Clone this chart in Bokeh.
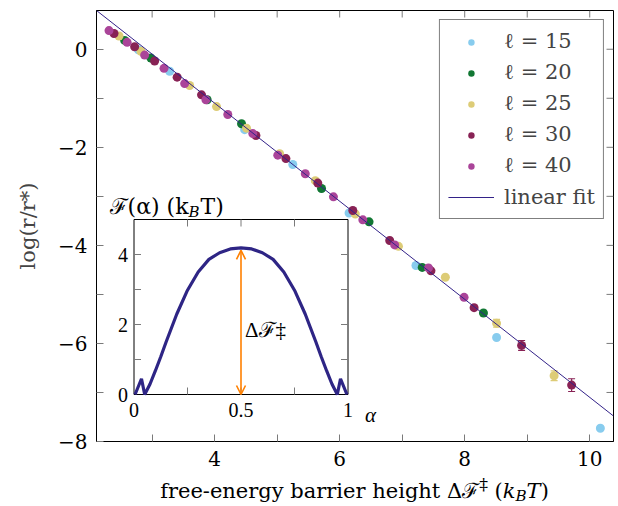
import math
from bokeh.plotting import figure
from bokeh.layouts import column
from bokeh.models import (Range1d, FixedTicker, Label, Legend, LegendItem, Div,
                          Whisker, TeeHead, ColumnDataSource, Arrow, OpenHead)
from bokeh.embed import file_html
from bokeh.resources import INLINE

# ---------------- data ----------------
l15_x = [2.78, 3.28, 4.48, 5.25, 6.15, 7.22, 8.51, 10.17]
l15_y = [-0.01, -0.45, -1.64, -2.35, -3.34, -4.41, -5.88, -7.73]
l15_err = [0, 0, 0, 0, 0, 0, 0, 0.04]

l20_x = [2.56, 2.98, 3.88, 4.43, 5.71, 6.47, 7.32, 8.30]
l20_y = [0.18, -0.18, -1.03, -1.52, -2.84, -3.52, -4.45, -5.38]
l20_err = [0, 0, 0, 0, 0, 0, 0, 0]

l25_x = [2.47, 2.82, 3.60, 4.03, 4.51, 5.04, 5.61, 6.25, 6.94, 7.69, 8.51, 9.43]
l25_y = [0.27, -0.04, -0.74, -1.17, -1.61, -2.13, -2.68, -3.36, -4.02, -4.65, -5.59, -6.66]
l25_err = [0, 0, 0, 0, 0, 0, 0, 0, 0, 0, 0.08, 0.10]

l30_x = [2.39, 2.72, 3.04, 3.40, 3.79, 4.66, 5.14, 5.65, 6.21, 6.80, 7.46, 8.15, 8.91, 9.71]
l30_y = [0.32, 0.05, -0.24, -0.57, -0.93, -1.76, -2.23, -2.73, -3.29, -3.90, -4.52, -5.27, -6.04, -6.85]
l30_err = [0, 0, 0, 0, 0, 0, 0, 0, 0, 0, 0, 0, 0.10, 0.13]

l40_x = [2.31, 2.60, 2.88, 3.19, 3.52, 3.86, 4.21, 4.61, 5.01, 5.45, 5.90, 6.37, 6.88, 7.42, 7.99]
l40_y = [0.38, 0.14, -0.12, -0.39, -0.70, -1.03, -1.33, -1.72, -2.16, -2.54, -3.01, -3.48, -3.99, -4.46, -5.06]
l40_err = [0] * 15

series_labels = ["ℓ = 15", "ℓ = 20", "ℓ = 25", "ℓ = 30", "ℓ = 40"]
series_colors = ["#88CCEE", "#117733", "#DDCC77", "#882255", "#AA4499"]

fit_slope = -1.0
fit_intercept = 2.9
fit_label = "linear fit"

x_major_ticks = [4, 6, 8, 10]
x_minor_ticks = [3, 5, 7, 9]
y_major_ticks = [-8, -6, -4, -2, 0]
y_minor_ticks = [-7, -5, -3, -1]

x_title = ("free-energy barrier height Δℱ<sup>‡</sup> (<i>k</i>"
           "<span style='font-size:0.72em;position:relative;top:0.22em'><i>B</i></span>"
           "<i>T</i>)")
y_title = "log(r/r*)"

# inset: free-energy profile
inset_alpha = [0.005, 0.035, 0.050, 0.075, 0.10, 0.125, 0.15, 0.175, 0.20, 0.25, 0.30, 0.35,
               0.40, 0.45, 0.50, 0.55, 0.60, 0.65, 0.70, 0.75, 0.80, 0.825, 0.85, 0.875,
               0.90, 0.925, 0.95, 0.965, 0.995]
inset_F = [0.00, 0.45, 0.00, 0.30, 0.68, 1.08, 1.50, 1.90, 2.30, 2.98, 3.50, 3.86,
           4.05, 4.16, 4.19, 4.16, 4.05, 3.86, 3.50, 2.98, 2.30, 1.90, 1.50, 1.08,
           0.68, 0.30, 0.00, 0.45, 0.00]
barrier_height = 4.12
inset_x_labeled = [0, 0.5, 1]
inset_x_labels = ["0", "0.5", "1"]
inset_x_minor = [0.25, 0.5, 0.75]
inset_y_labeled = [0, 2, 4]
inset_y_labels = ["0", "2", "4"]
inset_y_minor = [1, 2, 3, 4]

# ---------------- layout ----------------
FONT = "DejaVu Serif"
FS = "20px"
FS_L = "21px"
W = 618
BL, BR, BT, BB = 96, 5, 10, 35
FW, FH = W - BL - BR, 431
H = BT + FH + BB
DIV_H = 506 - H
X0, X1 = 2.11, 10.38
Y0, Y1 = -8.0, 0.79
TICK = 7
TICK_COLOR = "#7a7a7a"

p = figure(width=W, height=H, output_backend="svg", toolbar_location=None,
           x_range=Range1d(X0, X1), y_range=Range1d(Y0, Y1),
           min_border_left=BL, min_border_right=BR, min_border_top=BT, min_border_bottom=BB)
p.background_fill_color = "white"
p.border_fill_color = "white"
p.outline_line_color = "black"
p.xgrid.visible = False
p.ygrid.visible = False

p.xaxis.ticker = FixedTicker(ticks=x_major_ticks, minor_ticks=x_minor_ticks)
p.yaxis.ticker = FixedTicker(ticks=y_major_ticks, minor_ticks=y_minor_ticks)
for ax in (p.xaxis[0], p.yaxis[0]):
    ax.major_tick_in = TICK
    ax.major_tick_out = 0
    ax.minor_tick_in = TICK
    ax.minor_tick_out = 0
    ax.major_tick_line_color = TICK_COLOR
    ax.minor_tick_line_color = TICK_COLOR
    ax.axis_line_color = "black"
    ax.major_label_text_font = FONT
    ax.major_label_text_font_size = FS
    ax.major_label_text_color = "black"
    ax.axis_label_text_font = FONT
    ax.axis_label_text_font_style = "normal"
    ax.axis_label_text_font_size = FS_L
p.xaxis.major_label_standoff = 9
p.yaxis.major_label_standoff = 9
p.yaxis.major_label_overrides = {t: str(t).replace("-", "\u2212") for t in y_major_ticks}
p.yaxis.axis_label = y_title
p.yaxis.axis_label_standoff = 15

# mirrored ticks on top and right edges of the frame
x_all_ticks = sorted(x_major_ticks + x_minor_ticks)
y_all_ticks = sorted(y_major_ticks + y_minor_ticks)
p.ray(x=x_all_ticks, y=[Y1] * len(x_all_ticks), length=TICK, length_units="screen",
      angle=-math.pi / 2, line_color=TICK_COLOR)
p.ray(x=[X1] * len(y_all_ticks), y=y_all_ticks, length=TICK, length_units="screen",
      angle=math.pi, line_color=TICK_COLOR)

# fit line
fit_x = [X0, X1]
fit_y = [fit_intercept + fit_slope * v for v in fit_x]

all_series = [(l15_x, l15_y, l15_err), (l20_x, l20_y, l20_err), (l25_x, l25_y, l25_err),
              (l30_x, l30_y, l30_err), (l40_x, l40_y, l40_err)]
items = []
for (xs, ys, es), lab, col in zip(all_series, series_labels, series_colors):
    ex = [x for x, e in zip(xs, es) if e > 0]
    if ex:
        src = ColumnDataSource(dict(
            x=ex,
            lo=[y - e for y, e in zip(ys, es) if e > 0],
            hi=[y + e for y, e in zip(ys, es) if e > 0]))
        p.add_layout(Whisker(source=src, base="x", lower="lo", upper="hi", dimension="height",
                             line_color=col, line_width=1.2,
                             lower_head=TeeHead(size=7, line_color=col, line_width=1.2),
                             upper_head=TeeHead(size=7, line_color=col, line_width=1.2)))
    r = p.scatter(xs, ys, size=9, fill_color=col, line_color=None)
    items.append(LegendItem(label=lab, renderers=[r]))

rfit = p.line(fit_x, fit_y, line_color="#332288", line_width=1)
items.append(LegendItem(label=fit_label, renderers=[rfit]))

legend = Legend(items=items, location="top_right", margin=9,
                border_line_color="black", border_line_width=1,
                background_fill_color="white", background_fill_alpha=1,
                label_text_font=FONT, label_text_font_size=FS_L,
                glyph_width=46, glyph_height=16, label_height=27,
                spacing=4, padding=8, label_standoff=10)
p.add_layout(legend)

# ---------------- inset ----------------
IN_L, IN_W = 37.5, 214.0     # px from frame left, width
IN_B, IN_H = 47.0, 175.0     # px from frame bottom, height
ax0, ax1 = 0.0, 1.0
ay0, ay1 = 0.0, 5.0
ux = (ax1 - ax0) / IN_W
uy = (ay1 - ay0) / IN_H
p.extra_x_ranges = {"inset": Range1d(ax0 - IN_L * ux, ax0 + (FW - IN_L) * ux)}
p.extra_y_ranges = {"inset": Range1d(ay0 - IN_B * uy, ay0 + (FH - IN_B) * uy)}
ins = dict(x_range_name="inset", y_range_name="inset")

p.quad(left=[ax0], right=[ax1], bottom=[ay0], top=[ay1], fill_color="white",
       line_color="black", line_width=1, **ins)
p.ray(x=inset_x_minor, y=[ay0] * 3, length=TICK, length_units="screen", angle=math.pi / 2,
      line_color=TICK_COLOR, **ins)
p.ray(x=inset_x_minor, y=[ay1] * 3, length=TICK, length_units="screen", angle=-math.pi / 2,
      line_color=TICK_COLOR, **ins)
p.ray(x=[ax0] * 4, y=inset_y_minor, length=TICK, length_units="screen", angle=0,
      line_color=TICK_COLOR, **ins)
p.ray(x=[ax1] * 4, y=inset_y_minor, length=TICK, length_units="screen", angle=math.pi,
      line_color=TICK_COLOR, **ins)
p.line(inset_alpha, inset_F, line_color="#2E2585", line_width=3.2, **ins)

p.add_layout(Arrow(x_start=0.5, y_start=0.0, x_end=0.5, y_end=barrier_height,
                   line_color="#FF8000", line_width=1.6,
                   start=OpenHead(size=9, line_color="#FF8000", line_width=1.6),
                   end=OpenHead(size=9, line_color="#FF8000", line_width=1.6), **ins))

p.text(x=inset_x_labeled, y=[ay0] * 3, text=inset_x_labels, y_offset=8,
       text_align="center", text_baseline="top", text_font=FONT, text_font_size=FS,
       text_color="black", **ins)
p.text(x=[ax0] * 3, y=inset_y_labeled, text=inset_y_labels, x_offset=-6,
       text_align="right", text_baseline="middle", text_font=FONT, text_font_size=FS,
       text_color="black", **ins)
p.text(x=[ax1], y=[ay0], text=["α"], x_offset=17, y_offset=8, text_align="left",
       text_baseline="top", text_font=FONT, text_font_size=FS_L, text_font_style="italic",
       text_color="black", **ins)
p.text(x=[0.5], y=[1.85], text=["Δℱ‡"], x_offset=4, text_align="left",
       text_baseline="middle", text_font=FONT, text_font_size=FS_L, text_color="black", **ins)

# inset y title  F(alpha) (k_B T), built from pieces for the subscript
p.add_layout(Label(x=92, y=235, x_units="screen", y_units="screen", text="ℱ(α) (k",
                   text_align="right", text_baseline="alphabetic", text_font=FONT,
                   text_font_size="22px", text_color="black"))
p.add_layout(Label(x=92, y=230, x_units="screen", y_units="screen", text="B",
                   text_align="left", text_baseline="alphabetic", text_font=FONT,
                   text_font_size="15px", text_font_style="italic", text_color="black"))
p.add_layout(Label(x=104, y=235, x_units="screen", y_units="screen", text="T)",
                   text_align="left", text_baseline="alphabetic", text_font=FONT,
                   text_font_size="22px", text_color="black"))

# main x-axis title (HTML for the sub/superscripts)
xlab = Div(text=x_title, width=FW, height=DIV_H, margin=(0, 0, 0, BL),
           styles={"font-family": FONT, "font-size": FS_L, "color": "black",
                   "text-align": "center", "line-height": "16px",
                   "white-space": "nowrap", "overflow": "visible"})

layout = column(p, xlab, spacing=0)
open("out.html", "w").write(file_html(layout, INLINE))
